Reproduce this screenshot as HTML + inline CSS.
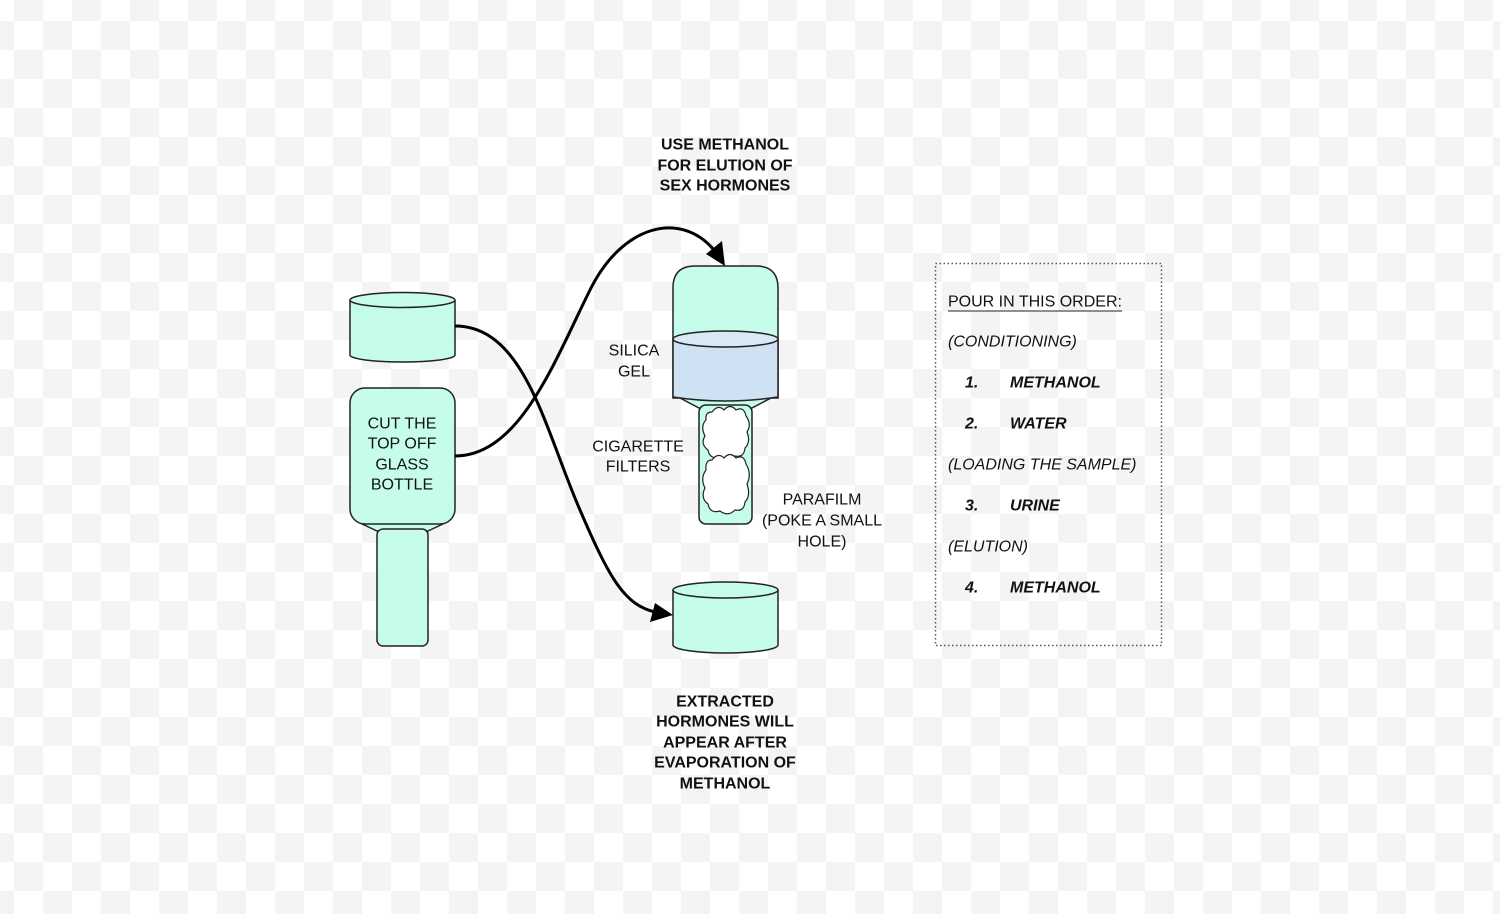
<!DOCTYPE html>
<html><head><meta charset="utf-8"><style>
html,body{margin:0;padding:0}
body{width:1500px;height:914px;overflow:hidden;background-color:#fff;
background-image:repeating-conic-gradient(#f4f4f4 0 25%,#fff 0 50%);
background-size:58px 58px;background-position:-15px -8px;}
svg{position:absolute;left:0;top:0}
text{font-family:"Liberation Sans",sans-serif;font-size:16px;fill:#111;dominant-baseline:central}
.b{font-weight:bold}
.i{font-style:italic}
.bi{font-style:italic;font-weight:bold}
</style></head><body>
<svg width="1500" height="914" viewBox="0 0 1500 914">
<g stroke="#222" stroke-width="1.5" fill="#c6fcec">
<path d="M350 300 L350 355 A52.5 7 0 0 0 455 355 L455 300"/>
<ellipse cx="402.5" cy="300" rx="52.5" ry="7.5"/>
<path d="M360 523 L377 531 L428 531 L445 523 Z"/>
<rect x="350" y="388" width="105" height="136" rx="15"/>
<rect x="377" y="529" width="51" height="117" rx="6"/>
<path d="M680 398 L699 408 L752 408 L771 398 Z"/>
<path d="M673 398 L673 288 Q673 266 695 266 L756 266 Q778 266 778 288 L778 398 Z"/>
<path d="M673 339 L673 397 Q725 405 778 397 L778 339 Z" fill="#cfe2f3"/>
<ellipse cx="725.5" cy="339" rx="52.5" ry="8" fill="#d9eaf6"/>
<rect x="699" y="405" width="53" height="119" rx="7"/>
<path fill="#fff" stroke-width="1.2" d="M712 412 Q718 404 724 410 Q730 403 736 410 Q744 406 746 416 Q752 424 747 432 Q751 442 745 448 Q744 458 735 456 Q728 463 720 457 Q710 460 708 450 Q700 444 705 436 Q700 426 706 420 Q705 412 712 412 Z"/>
<path fill="#fff" stroke-width="1.2" d="M712 460 Q718 452 724 458 Q730 451 736 458 Q744 454 746 464 Q752 474 747 484 Q751 496 745 502 Q744 512 735 510 Q728 517 720 511 Q710 514 708 504 Q700 498 705 488 Q700 478 706 470 Q705 460 712 460 Z"/>
<path d="M673 590 L673 645 A52.5 8 0 0 0 778 645 L778 590"/>
<ellipse cx="725.5" cy="590" rx="52.5" ry="8"/>
</g>
<g fill="none" stroke="#000" stroke-width="3">
<path d="M455 326 C 525 326, 545 430, 580 510 C 610 580, 625 605, 655 612"/>
<path d="M455 456 C 520 456, 555 360, 590 290 C 622 225, 680 210, 714 250"/>
</g>
<polygon points="673,615 650,622 655,603" fill="#000"/>
<polygon points="725,266 706,254 722,241" fill="#000"/>
<g text-anchor="middle">
<text class="b" x="725" y="145">USE METHANOL</text>
<text class="b" x="725" y="166">FOR ELUTION OF</text>
<text class="b" x="725" y="186">SEX HORMONES</text>
<text class="b" x="725" y="702">EXTRACTED</text>
<text class="b" x="725" y="722">HORMONES WILL</text>
<text class="b" x="725" y="743">APPEAR AFTER</text>
<text class="b" x="725" y="763">EVAPORATION OF</text>
<text class="b" x="725" y="784">METHANOL</text>
<text x="634" y="351">SILICA</text>
<text x="634" y="372">GEL</text>
<text x="638" y="447">CIGARETTE</text>
<text x="638" y="467">FILTERS</text>
<text x="822" y="500">PARAFILM</text>
<text x="822" y="521">(POKE A SMALL</text>
<text x="822" y="542">HOLE)</text>
<text x="402" y="424">CUT THE</text>
<text x="402" y="444">TOP OFF</text>
<text x="402" y="465">GLASS</text>
<text x="402" y="485">BOTTLE</text>
</g>
<rect x="935.5" y="263.5" width="226" height="382" fill="none" stroke="#555" stroke-width="1.5" stroke-dasharray="1.5 2.5"/>
<text x="948" y="302">POUR IN THIS ORDER:</text>
<line x1="948" y1="311" x2="1122" y2="311" stroke="#222" stroke-width="1"/>
<text class="i" x="948" y="342">(CONDITIONING)</text>
<text class="bi" x="965" y="383">1.</text><text class="bi" x="1010" y="383">METHANOL</text>
<text class="bi" x="965" y="424">2.</text><text class="bi" x="1010" y="424">WATER</text>
<text class="i" x="948" y="465">(LOADING THE SAMPLE)</text>
<text class="bi" x="965" y="506">3.</text><text class="bi" x="1010" y="506">URINE</text>
<text class="i" x="948" y="547">(ELUTION)</text>
<text class="bi" x="965" y="588">4.</text><text class="bi" x="1010" y="588">METHANOL</text>
</svg>
</body></html>
